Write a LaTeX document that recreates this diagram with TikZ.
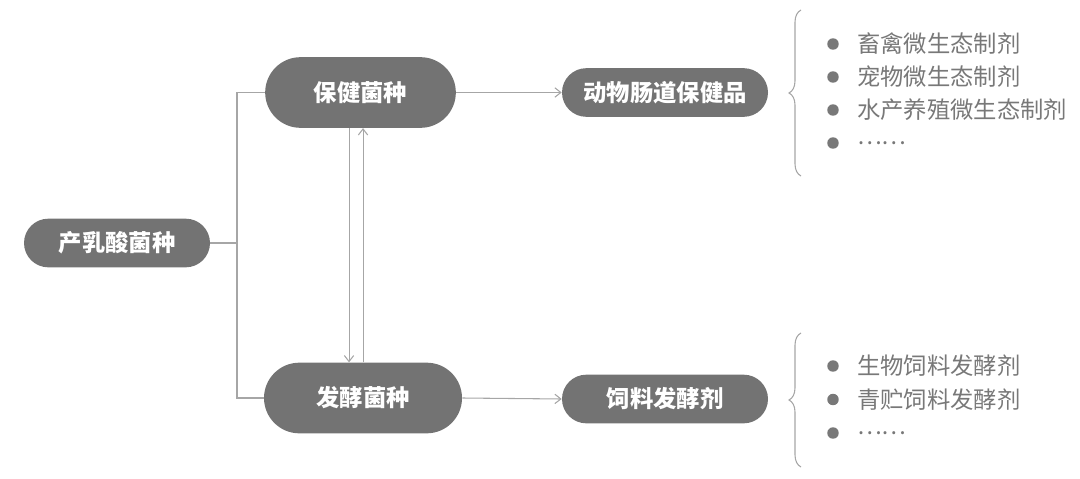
\documentclass[tikz,border=0pt]{standalone}
\usepackage{fontspec}
\setmainfont{Noto Sans CJK SC}
\usepackage{tikz}
\usetikzlibrary{arrows.meta, calc, decorations.pathreplacing}
\usepackage{xcolor}
\definecolor{boxgray}{RGB}{115,115,115}
\definecolor{linegray}{RGB}{166,166,166}
\definecolor{textgray}{RGB}{120,120,120}

\begin{document}
\begin{tikzpicture}[x=0.75pt, y=-0.75pt, >={Straight Barb[length=4.5pt,width=7pt]},
  pill/.style={fill=boxgray, text=white, inner sep=0pt, font=\bfseries\fontsize{17.5}{21}\selectfont},
  tallpill/.style={pill, minimum height=53pt, rounded corners=26.5pt},
  flatpill/.style={pill, minimum height=36.5pt, rounded corners=18.25pt},
  link/.style={draw=linegray, line width=0.8pt},
  listitem/.style={anchor=west, inner sep=0pt, text=textgray, font=\fontsize{17.5}{21}\selectfont},
  dot/.style={fill=textgray}]
  \useasboundingbox (0,0) rectangle (1080,478);

  \coordinate (split) at (237,243);
  \coordinate (TT) at (801,10);
  \coordinate (TB) at (801,176);
  \coordinate (BT) at (801,333);
  \coordinate (BB) at (801,467);

  % boxes
  \node[flatpill, minimum width=139.5pt] (LAB) at (117,243) {产乳酸菌种};
  \node[tallpill, minimum width=143pt] (HS) at (360.5,92.5) {保健菌种};
  \node[tallpill, minimum width=148.5pt] (FS) at (363,398) {发酵菌种};
  \node[flatpill, minimum width=154.5pt] (GUT) at (665,92.5) {动物肠道保健品};
  \node[flatpill, minimum width=154.5pt] (FEED) at (665,399) {饲料发酵剂};

  \draw[link] (LAB.east) -- (split) |- (HS.west);
  \draw[link] (split) |- (FS.west);
  \draw[link, ->] ([xshift=-8.6pt]HS.south) -- ([xshift=-8.6pt]HS.south |- FS.north);
  \draw[link, ->] ([xshift=1.9pt]HS.south |- FS.north) -- ([xshift=1.9pt]HS.south);
  \draw[link, ->] (HS.east) -- (GUT.west);
  \draw[link, ->] (FS.east) -- (FEED.west);

  % braces and lists
  \draw[link, decorate, decoration={brace, amplitude=9pt}] (TB) -- (TT);
  \draw[link, decorate, decoration={brace, amplitude=9pt}] (BB) -- (BT);

  \foreach \txt [count=\i] in {畜禽微生态制剂, 宠物微生态制剂, 水产养殖微生态制剂, ……} {
    \node[listitem] (up\i) at (857,{44+33*(\i-1)}) {\txt};
    \fill[dot] (up\i.west) ++(-24,0) circle (4.3pt);
  }
  \foreach \txt [count=\i] in {生物饲料发酵剂, 青贮饲料发酵剂, ……} {
    \node[listitem] (dn\i) at (857,{366+33.5*(\i-1)}) {\txt};
    \fill[dot] (dn\i.west) ++(-24,0) circle (4.3pt);
  }
\end{tikzpicture}
\end{document}
